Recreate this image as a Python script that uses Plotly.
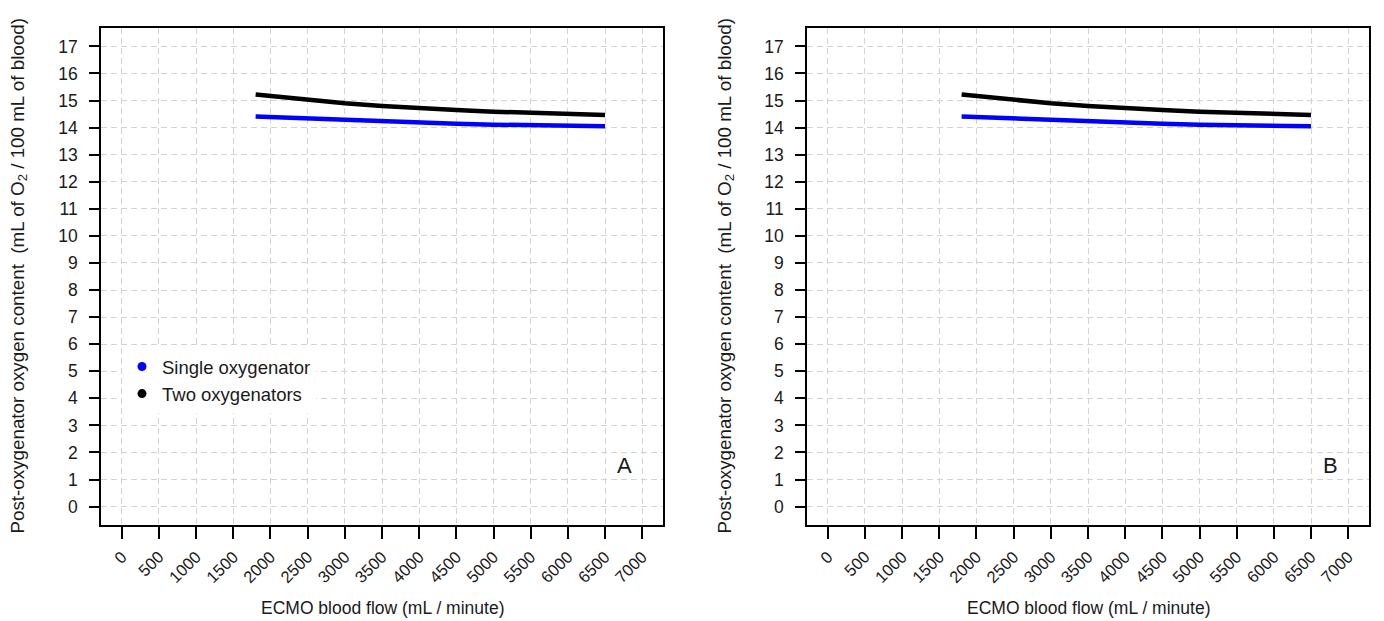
import plotly.graph_objects as go

# ---- data ----
flow = [1800, 2000, 2500, 3000, 3500, 4000, 4500, 5000, 5500, 6000, 6500]
single_oxy = [14.41, 14.39, 14.31, 14.25, 14.21, 14.16, 14.14, 14.11, 14.10, 14.09, 14.05]
two_oxy = [15.22, 15.16, 15.04, 14.90, 14.80, 14.71, 14.65, 14.59, 14.54, 14.50, 14.47]

x_ticks = list(range(0, 7001, 500))
y_ticks = list(range(0, 18))
panel_labels = ["A", "B"]
series_names = ["Single oxygenator", "Two oxygenators"]
series_colors = ["#0000ff", "#000000"]

FONT = "Liberation Sans, Arial, Helvetica, sans-serif"
TXT = "#1a1a1a"

fig = go.Figure()

axes = [("x", "y"), ("x2", "y2")]
for i, (xa, ya) in enumerate(axes):
    for name, vals, col in zip(series_names, [single_oxy, two_oxy], series_colors):
        fig.add_trace(go.Scatter(
            x=flow, y=vals, mode="lines", xaxis=xa, yaxis=ya,
            line=dict(color=col, width=4.5), showlegend=False, hoverinfo="skip"))

# legend-only dot entries (left panel legend)
for name, col in zip(series_names, series_colors):
    fig.add_trace(go.Scatter(x=[None], y=[None], mode="markers", name=name,
                             marker=dict(color=col, size=9), xaxis="x", yaxis="y"))

x_domains = [[101/1384, 663/1384], [807/1384, 1369/1384]]
y_domain = [1 - 525/621, 1 - 28/621]

axis_common = dict(
    showline=True, linecolor="black", linewidth=1.5, mirror=True,
    ticks="outside", tickcolor="black", tickwidth=1.5,
    showgrid=True, gridcolor="#d3d3d3", griddash="6px,4px", gridwidth=1,
    zeroline=False,
)

for i, dom in enumerate(x_domains):
    sfx = "" if i == 0 else str(i + 1)
    fig.update_layout(**{
        "xaxis" + sfx: dict(axis_common, domain=dom, range=[-280, 7280],
                            tickvals=x_ticks, ticktext=[str(v) for v in x_ticks],
                            tickangle=-45, ticklen=12, ticklabelstandoff=2,
                            tickfont=dict(family=FONT, size=16.5, color=TXT),
                            anchor="y" + sfx),
        "yaxis" + sfx: dict(axis_common, domain=y_domain, range=[-0.68, 17.68],
                            tickvals=y_ticks, ticktext=[str(v) for v in y_ticks],
                            ticklen=10, ticklabelstandoff=8,
                            tickfont=dict(family=FONT, size=17.5, color=TXT),
                            anchor="x" + sfx),
    })

annotations = []
ytitle = "Post-oxygenator oxygen content  (mL of O<sub>2</sub> / 100 mL of blood)"
for i, dom in enumerate(x_domains):
    sfx = "" if i == 0 else str(i + 1)
    annotations.append(dict(text="ECMO blood flow (mL / minute)", xref="paper", yref="paper",
                            x=(dom[0] + dom[1]) / 2, y=1 - 608/621, showarrow=False,
                            xanchor="center", yanchor="middle",
                            font=dict(family=FONT, size=17.5, color=TXT)))
    annotations.append(dict(text=ytitle, xref="paper", yref="paper",
                            x=(18 if i == 0 else 725) / 1384, y=(y_domain[0] + y_domain[1]) / 2,
                            textangle=-90, showarrow=False, xanchor="center", yanchor="middle",
                            font=dict(family=FONT, size=18.8, color=TXT)))
    annotations.append(dict(text=panel_labels[i], xref="x" + sfx, yref="y" + sfx,
                            x=6760, y=1.5, showarrow=False, xanchor="center", yanchor="middle",
                            font=dict(family=FONT, size=22, color=TXT)))

fig.update_layout(
    width=1384, height=621, autosize=False,
    margin=dict(l=0, r=0, t=0, b=0),
    paper_bgcolor="white", plot_bgcolor="white",
    annotations=annotations,
    legend=dict(x=122/1384, y=1 - 348/621, xanchor="left", yanchor="top",
                bgcolor="white", borderwidth=0,
                font=dict(family=FONT, size=18.5, color=TXT),
                itemwidth=30, tracegroupgap=0),
    showlegend=True,
)

fig.write_html("out.html")
